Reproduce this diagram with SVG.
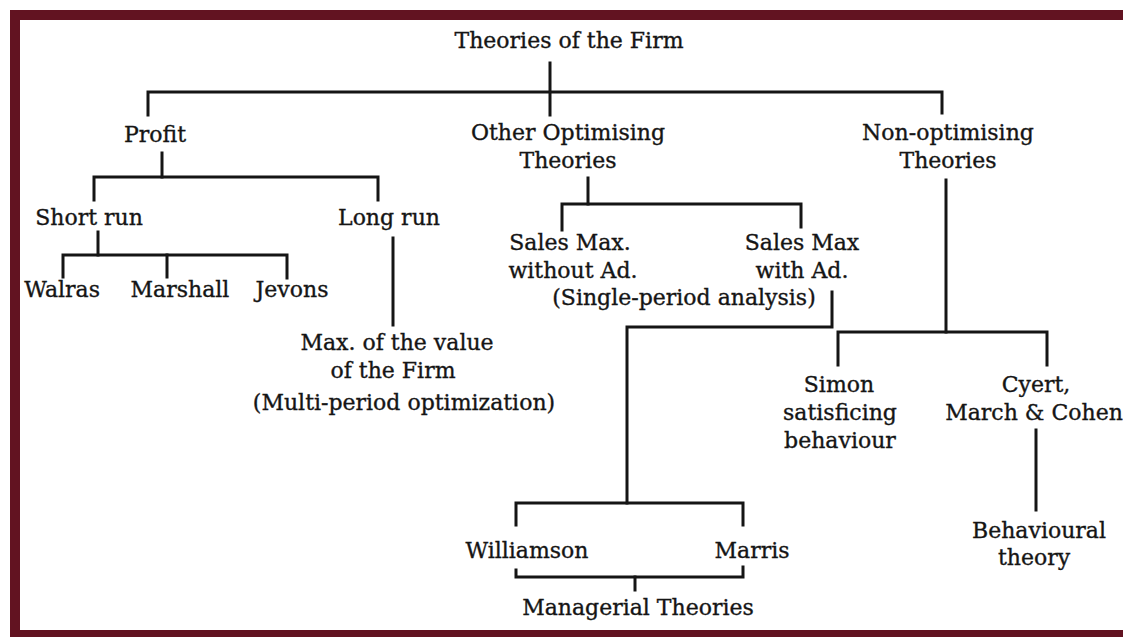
<svg xmlns="http://www.w3.org/2000/svg" width="1123" height="637" viewBox="0 0 1123 637">
<style>
.t{font-family:"DejaVu Serif","Liberation Serif",serif;font-size:22px;fill:#151515;stroke:#151515;stroke-width:0.35;text-anchor:middle}
.c{fill:none;stroke:#151515;stroke-width:3;stroke-linecap:square;stroke-linejoin:miter}
</style>
<rect x="0" y="0" width="1123" height="637" fill="#ffffff"/>
<g id="connectors" class="c">
<path d="M550,63V115"/>
<path d="M148,115V92H942V113"/>
<path d="M162,153V177"/>
<path d="M94,200V177H378V200"/>
<path d="M98,232V255"/>
<path d="M63,277V255H287V278"/>
<path d="M167,255V277"/>
<path d="M393,238V325"/>
<path d="M588,178V204"/>
<path d="M562,230V204H801V227"/>
<path d="M832,292V327H627V503"/>
<path d="M516,525V503H743V525"/>
<path d="M516,570V577H743V567"/>
<path d="M635,577V590"/>
<path d="M946,180V332"/>
<path d="M838,365V332H1047V365"/>
<path d="M1036,430V510"/>
</g>
<g id="n-root"><text class="t" x="569" y="48">Theories of the Firm</text></g>
<g id="n-profit"><text class="t" x="155" y="142">Profit</text></g>
<g id="n-other"><text class="t" x="568" y="140">Other Optimising</text><text class="t" x="568" y="168">Theories</text></g>
<g id="n-nonopt"><text class="t" x="948" y="140">Non-optimising</text><text class="t" x="948" y="168">Theories</text></g>
<g id="n-short"><text class="t" x="89" y="225">Short run</text></g>
<g id="n-long"><text class="t" x="389" y="225">Long run</text></g>
<g id="n-walras"><text class="t" x="100" y="297" style="text-anchor:end">Walras</text></g>
<g id="n-marshall"><text class="t" x="180" y="297">Marshall</text></g>
<g id="n-jevons"><text class="t" x="292" y="297">Jevons</text></g>
<g id="n-salesmax"><text class="t" x="570" y="250">Sales Max.</text><text class="t" x="573" y="278">without Ad.</text></g>
<g id="n-salesad"><text class="t" x="802" y="250">Sales Max</text><text class="t" x="802" y="278">with Ad.</text></g>
<g id="n-single"><text class="t" x="684" y="305">(Single-period analysis)</text></g>
<g id="n-value"><text class="t" x="397" y="350">Max. of the value</text><text class="t" x="393" y="378">of the Firm</text><text class="t" x="404" y="410">(Multi-period optimization)</text></g>
<g id="n-simon"><text class="t" x="839" y="392">Simon</text><text class="t" x="840" y="420">satisficing</text><text class="t" x="840" y="448">behaviour</text></g>
<g id="n-cyert"><text class="t" x="1036" y="392">Cyert,</text><text class="t" x="1034" y="420">March &amp; Cohen</text></g>
<g id="n-behav"><text class="t" x="1039" y="538">Behavioural</text><text class="t" x="1034" y="565">theory</text></g>
<g id="n-williamson"><text class="t" x="527" y="558">Williamson</text></g>
<g id="n-marris"><text class="t" x="752" y="558">Marris</text></g>
<g id="n-managerial"><text class="t" x="638" y="615">Managerial Theories</text></g>
<rect x="15" y="15" width="1115" height="620" fill="none" stroke="#621321" stroke-width="10"/>
</svg>
